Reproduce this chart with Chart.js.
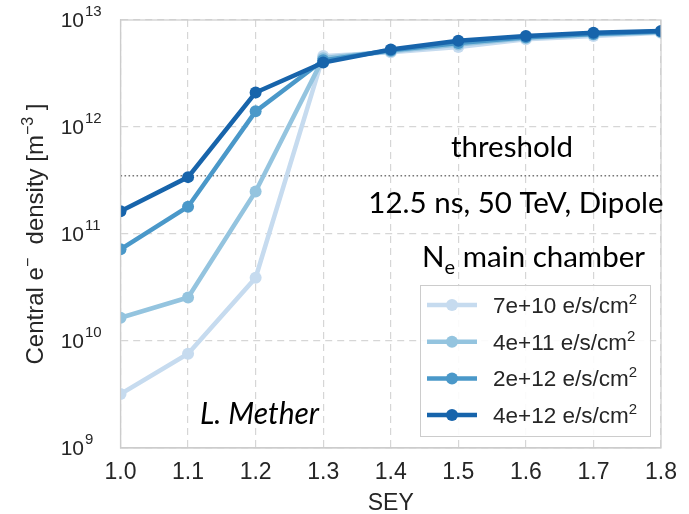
<!DOCTYPE html>
<html>
<head>
<meta charset="utf-8">
<script src="https://cdn.jsdelivr.net/npm/chart.js@4/dist/chart.umd.min.js"></script>
<style>
  body { margin: 0; background: #fff; }
</style>
</head>
<body>
<canvas id="myChart" width="689" height="514"></canvas>
<script>
// data
const sey = [1.0, 1.1, 1.2, 1.3, 1.4, 1.5, 1.6, 1.7, 1.8];
const density7e10 = [3.2e9, 7.6e9, 3.9e10, 4.6e12, 5.0e12, 5.6e12, 6.6e12, 7.1e12, 7.6e12];
const density4e11 = [1.65e10, 2.55e10, 2.5e11, 4.4e12, 5.1e12, 5.9e12, 6.8e12, 7.3e12, 7.7e12];
const density2e12 = [7.2e10, 1.8e11, 1.4e12, 4.2e12, 5.2e12, 6.1e12, 6.9e12, 7.4e12, 7.8e12];
const density4e12 = [1.63e11, 3.4e11, 2.1e12, 4.0e12, 5.3e12, 6.4e12, 7.1e12, 7.6e12, 7.9e12];
const threshold = 3.5e11;

const seriesLabels = ['7e+10 e/s/cm', '4e+11 e/s/cm', '2e+12 e/s/cm', '4e+12 e/s/cm'];
const seriesColors = ['#c6dbef', '#94c4df', '#4a98c9', '#1764ab'];
const yTicks = [1e9, 1e10, 1e11, 1e12, 1e13];

const allSeries = [density7e10, density4e11, density2e12, density4e12];

const datasets = allSeries.map((vals, i) => ({
  label: seriesLabels[i] + '²',
  data: vals.map((v, j) => ({ x: sey[j], y: v })),
  borderColor: seriesColors[i],
  backgroundColor: seriesColors[i],
  borderWidth: 4.5,
  pointRadius: 6,
  pointBorderWidth: 0,
  order: allSeries.length - i
}));

// dotted threshold line
datasets.push({
  label: 'threshold',
  data: [{ x: sey[0], y: threshold }, { x: sey[sey.length - 1], y: threshold }],
  borderColor: '#777',
  borderWidth: 1.6,
  borderDash: [1.6, 2.4],
  pointRadius: 0,
  order: 10
});

const axisFont = '"Liberation Sans", Arial, sans-serif';
const noteFont = 'Lato, "Open Sans", sans-serif';
const textColor = '#262626';

// draws a run of [text, size, raise] pieces from x along the baseline
function drawRuns(ctx, runs, x, y, family) {
  runs.forEach(([t, size, raise]) => {
    ctx.font = size + 'px ' + family;
    ctx.fillText(t, x, y - raise);
    x += ctx.measureText(t).width;
  });
  return x;
}
function runsWidth(ctx, runs, family) {
  let w = 0;
  runs.forEach(([t, size]) => {
    ctx.font = size + 'px ' + family;
    w += ctx.measureText(t).width;
  });
  return w;
}

// y tick labels as 10^n, y title, frame, legend and notes
const extras = {
  id: 'extras',
  afterDraw(chart) {
    const ctx = chart.ctx;
    const area = chart.chartArea;
    const yScale = chart.scales.y;
    ctx.save();

    // frame
    ctx.strokeStyle = '#cccccc';
    ctx.lineWidth = 1.2;
    ctx.strokeRect(area.left, area.top, area.right - area.left, area.bottom - area.top);

    // y tick labels
    ctx.fillStyle = textColor;
    ctx.textBaseline = 'middle';
    yTicks.forEach(v => {
      const y = yScale.getPixelForValue(v);
      const e = Math.round(Math.log10(v));
      ctx.font = '21px ' + axisFont;
      ctx.textAlign = 'right';
      ctx.fillText('10', 84, y + 1);
      ctx.font = '15px ' + axisFont;
      ctx.textAlign = 'left';
      ctx.fillText(String(e), 85, y - 8);
    });

    // y title
    const titleRuns = [
      ['Central e', 24, 0], ['\u2212', 16, 10], ['  density [m', 24, 0],
      ['\u22123', 16, 10], [' ]', 24, 0]
    ];
    ctx.save();
    ctx.translate(43, (area.top + area.bottom) / 2);
    ctx.rotate(-Math.PI / 2);
    ctx.textAlign = 'left';
    ctx.textBaseline = 'alphabetic';
    ctx.fillStyle = textColor;
    drawRuns(ctx, titleRuns, -runsWidth(ctx, titleRuns, axisFont) / 2, 0, axisFont);
    ctx.restore();

    // legend
    const lx = 420.5, ly = 285.5, lw = 230, lh = 151;
    ctx.fillStyle = 'rgba(255,255,255,0.9)';
    ctx.fillRect(lx, ly, lw, lh);
    ctx.strokeStyle = '#cccccc';
    ctx.lineWidth = 1;
    ctx.strokeRect(lx, ly, lw, lh);
    seriesLabels.forEach((label, i) => {
      const y = 305 + i * 36.7;
      ctx.strokeStyle = seriesColors[i];
      ctx.lineWidth = 4.5;
      ctx.beginPath();
      ctx.moveTo(427, y);
      ctx.lineTo(477, y);
      ctx.stroke();
      ctx.fillStyle = seriesColors[i];
      ctx.beginPath();
      ctx.arc(452, y, 6, 0, Math.PI * 2);
      ctx.fill();
      ctx.fillStyle = textColor;
      ctx.textAlign = 'left';
      ctx.textBaseline = 'alphabetic';
      drawRuns(ctx, [[label, 22.5, 0], ['2', 15, 9]], 493, y + 8, axisFont);
    });

    // notes
    ctx.fillStyle = '#000';
    ctx.textBaseline = 'alphabetic';
    ctx.font = '29.5px ' + noteFont;
    ctx.textAlign = 'center';
    ctx.fillText('threshold', 512, 157);
    ctx.fillText('12.5 ns, 50 TeV, Dipole', 516, 213);

    ctx.textAlign = 'left';
    drawRuns(ctx, [['N', 29.5, 0], ['e', 20, -7], [' main chamber', 29.5, 0]], 422, 267, noteFont);

    ctx.font = 'italic 30px ' + noteFont;
    ctx.fillText('L. Mether', 200, 424);

    ctx.restore();
  }
};

const config = {
  type: 'line',
  data: { datasets: datasets },
  options: {
    responsive: false,
    animation: false,
    devicePixelRatio: 1,
    layout: { padding: { top: 20, right: 28, left: 0, bottom: 0 } },
    plugins: {
      legend: { display: false },
      tooltip: { enabled: false }
    },
    scales: {
      x: {
        type: 'linear',
        min: 1.0,
        max: 1.8,
        afterFit: s => { s.height = 66; },
        ticks: {
          stepSize: 0.1,
          padding: 11,
          color: textColor,
          font: { family: axisFont, size: 23 },
          callback: v => Number(v).toFixed(1)
        },
        grid: { color: '#d6d6d6', lineWidth: 1.2, drawTicks: false },
        border: { color: '#cccccc', width: 1.2, dash: [7, 5] },
        title: {
          display: true,
          text: 'SEY',
          color: textColor,
          font: { family: axisFont, size: 23 },
          padding: { top: 0, bottom: -3 }
        }
      },
      y: {
        type: 'logarithmic',
        min: 1e9,
        max: 1e13,
        afterFit: s => { s.width = 120.5; },
        afterBuildTicks: s => { s.ticks = yTicks.map(v => ({ value: v })); },
        ticks: { display: false },
        grid: { color: '#d6d6d6', lineWidth: 1.2, drawTicks: false },
        border: { color: '#cccccc', width: 1.2, dash: [7, 5] },
        title: { display: false }
      }
    }
  },
  plugins: [extras]
};

const myChart = new Chart(document.getElementById('myChart'), config);
</script>
</body>
</html>
